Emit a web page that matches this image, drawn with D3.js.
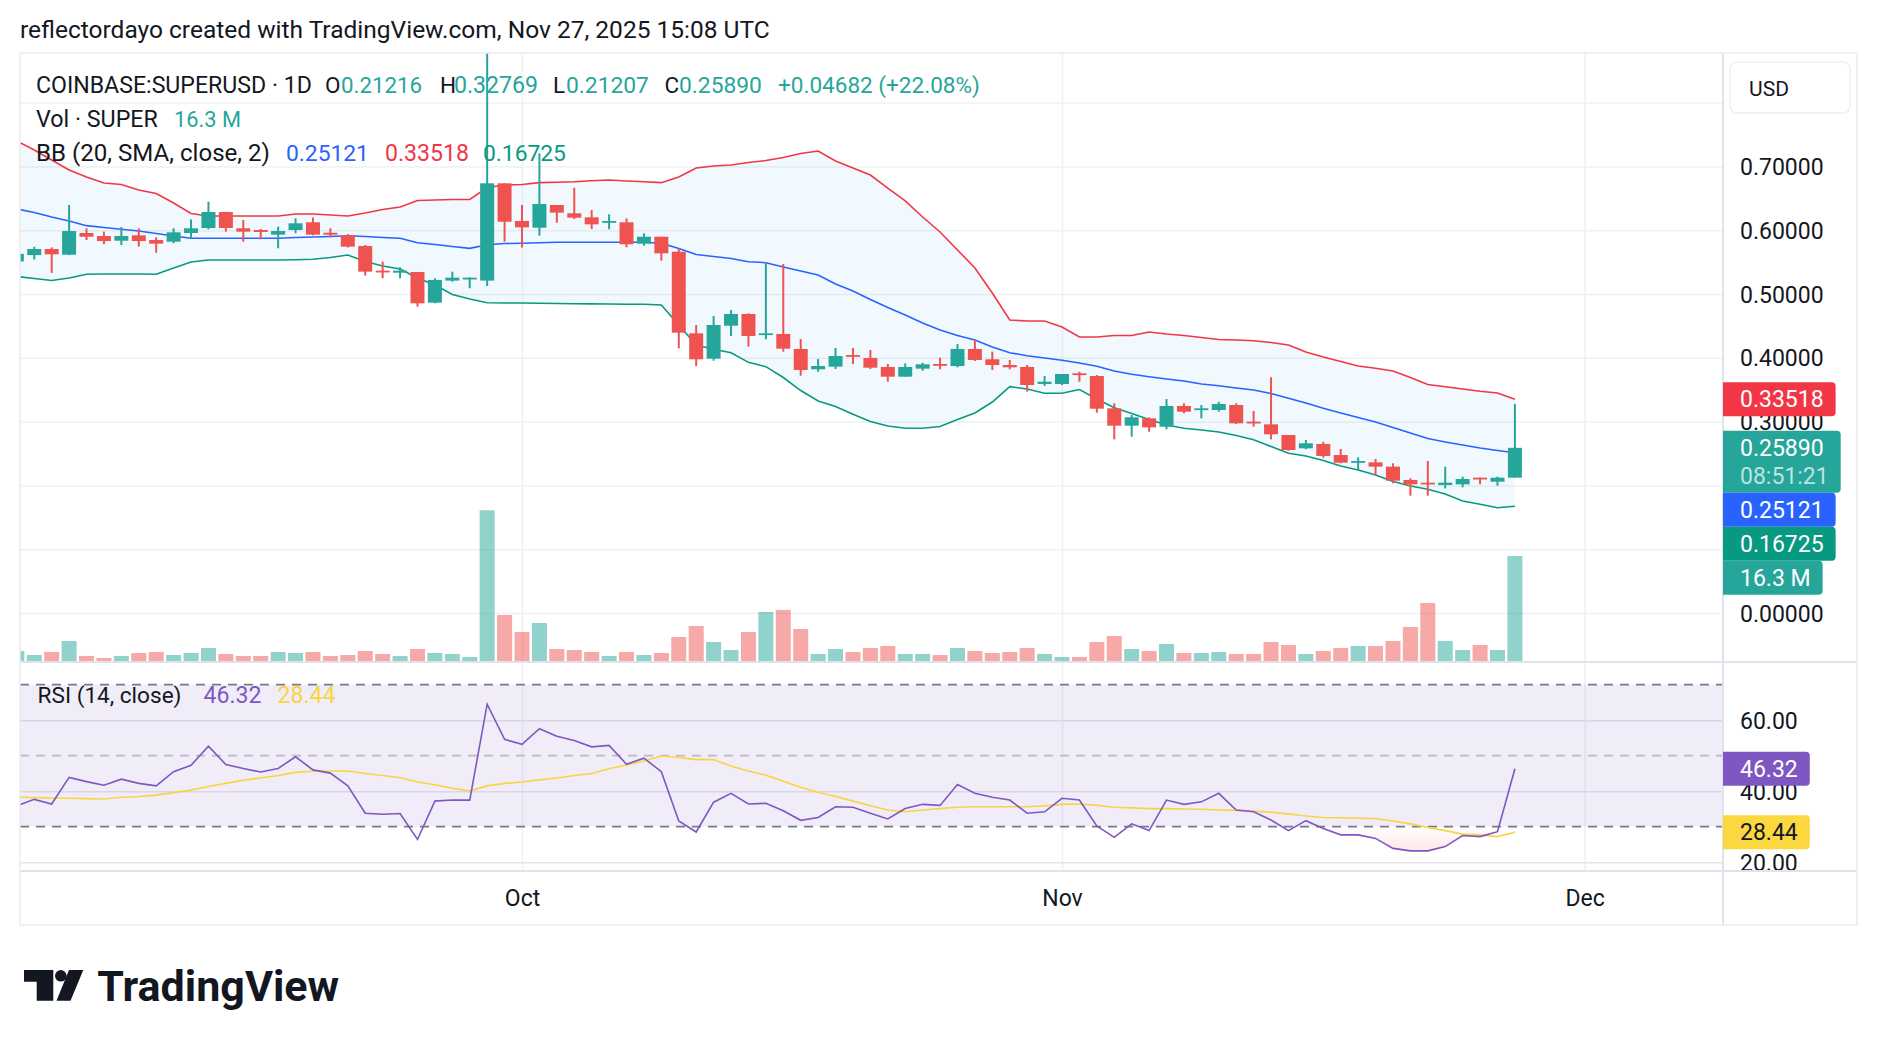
<!DOCTYPE html>
<html><head><meta charset="utf-8">
<script src="https://cdn.jsdelivr.net/npm/d3@7"></script>
<style>body{margin:0;background:#fff;} svg{display:block;font-family:Roboto,sans-serif;}</style>
</head><body><svg id="c" width="1878" height="1046"></svg>
<script>
// ---------------- data ----------------
const startDate = "2025-09-02";
const monthTicks = ["2025-10-01","2025-11-01","2025-12-01"];
const priceTicks = [0,0.1,0.2,0.3,0.4,0.5,0.6,0.7];
const priceGrid = [0,0.1,0.2,0.3,0.4,0.5,0.6,0.7,0.8];
const rsiTicks = [20,40,60];
const rsiBands = [70,50,30];
const open = [0.551,0.561,0.5705,0.5616,0.5956,0.5909,0.5835,0.592,0.5846,0.582,
0.5956,0.6034,0.6285,0.603,0.6003,0.593,0.6003,0.6124,0.596,0.592,
0.5752,0.5366,0.5334,0.5345,0.4864,0.521,0.5235,0.521,0.6735,0.6144,
0.6039,0.6395,0.6265,0.6202,0.6124,0.6124,0.5789,0.5898,0.5663,0.4384,
0.3986,0.4503,0.4687,0.4363,0.4373,0.4138,0.382,0.3861,0.4044,0.3997,
0.3856,0.3704,0.383,0.3903,0.3871,0.4138,0.3977,0.3887,0.3856,0.359,
0.359,0.3757,0.3715,0.3208,0.2936,0.3051,0.292,0.3245,0.3182,0.3182,
0.326,0.2999,0.2957,0.279,0.2581,0.2649,0.2476,0.2356,0.2361,0.2294,
0.2085,0.2043,0.2006,0.2017,0.2121,0.2058,0.21216];
const high = [0.566,0.574,0.573,0.6395,0.603,0.5977,0.605,0.603,0.5889,0.603,
0.617,0.6447,0.629,0.616,0.602,0.6055,0.6186,0.620,0.603,0.594,
0.5768,0.5507,0.5418,0.5345,0.5246,0.535,0.526,0.90,0.6735,0.6395,
0.7205,0.6395,0.6666,0.6317,0.6249,0.6186,0.5951,0.5898,0.5716,0.4514,
0.4655,0.4749,0.4697,0.5497,0.547,0.4295,0.3981,0.4154,0.4154,0.4122,
0.3903,0.3913,0.3923,0.4002,0.4216,0.4279,0.4096,0.3966,0.3887,0.3715,
0.3746,0.3782,0.373,0.3287,0.3103,0.3067,0.3354,0.3287,0.326,0.3312,
0.3287,0.3166,0.3694,0.279,0.2712,0.2685,0.257,0.244,0.2414,0.2346,
0.2111,0.2382,0.2293,0.2137,0.2121,0.2137,0.32769];
const low = [0.549,0.554,0.533,0.561,0.5846,0.578,0.5768,0.5742,0.5647,0.5795,
0.587,0.6014,0.5977,0.582,0.5857,0.5716,0.5951,0.592,0.5889,0.573,
0.5287,0.5246,0.5246,0.480,0.4854,0.5193,0.509,0.5125,0.582,0.573,
0.5914,0.6117,0.6176,0.6019,0.6014,0.5732,0.5757,0.5522,0.4149,0.3871,
0.3955,0.4342,0.4174,0.429,0.4096,0.372,0.3782,0.3824,0.3903,0.3824,
0.3626,0.3704,0.3798,0.382,0.3851,0.395,0.3809,0.382,0.3469,0.3558,
0.3574,0.3626,0.3139,0.2722,0.2763,0.2841,0.2879,0.313,0.3051,0.3155,
0.2962,0.292,0.2722,0.2544,0.2566,0.2434,0.2346,0.2241,0.2163,0.2033,
0.1839,0.1839,0.1954,0.197,0.2017,0.1995,0.21207];
const close = [0.563,0.5705,0.5622,0.5987,0.5898,0.583,0.5909,0.583,0.5789,0.5967,
0.603,0.6285,0.6034,0.5977,0.5972,0.5987,0.6108,0.593,0.593,0.5742,
0.535,0.5345,0.5366,0.4854,0.522,0.5256,0.5256,0.6735,0.6133,0.6045,
0.6411,0.6275,0.6196,0.6092,0.6144,0.5779,0.5898,0.5638,0.4394,0.3976,
0.4514,0.4687,0.4342,0.4384,0.4143,0.3809,0.3871,0.4028,0.4018,0.3845,
0.3704,0.3856,0.3898,0.3882,0.4138,0.3966,0.3887,0.3851,0.3574,0.3625,
0.3746,0.373,0.3202,0.2936,0.3067,0.291,0.3245,0.3155,0.3208,0.3276,
0.2973,0.2973,0.2801,0.2555,0.266,0.2461,0.2356,0.2382,0.2294,0.2074,
0.2017,0.2017,0.2043,0.21,0.2095,0.21208,0.2589];
const volumeM = [1.55,0.93,1.40,3.1,0.78,0.47,0.78,1.24,1.40,0.93,
1.24,2.02,1.09,0.78,0.78,1.40,1.24,1.40,0.78,0.93,
1.55,1.09,0.78,1.86,1.24,1.09,0.62,23.4,7.14,4.50,
5.90,1.86,1.71,1.40,0.78,1.40,0.93,1.24,3.73,5.43,
2.95,1.71,4.50,7.61,7.92,4.97,1.09,1.86,1.40,2.02,
2.33,1.09,1.09,0.93,2.02,1.55,1.24,1.40,2.02,1.09,
0.62,0.62,2.95,3.88,1.86,1.55,2.64,1.24,1.24,1.40,
1.09,1.09,2.95,2.48,1.09,1.55,2.02,2.33,2.33,3.11,
5.28,9.0,3.11,1.71,2.48,1.71,16.3];
const bbUpper = [0.7398,0.7257,0.7100,0.6944,0.6834,0.6740,0.6716,0.6630,0.6575,0.6426,
0.6262,0.6223,0.6223,0.6223,0.6223,0.6223,0.6254,0.6254,0.6238,0.6223,
0.6270,0.6324,0.6364,0.6466,0.6473,0.6481,0.6481,0.6669,0.6708,0.6716,
0.6745,0.6751,0.6760,0.6776,0.6787,0.6771,0.6760,0.6745,0.6834,0.6975,
0.7006,0.7022,0.7061,0.7092,0.7139,0.7202,0.7241,0.7085,0.6975,0.6865,
0.6661,0.6458,0.6207,0.5972,0.5690,0.5408,0.5016,0.4592,0.4577,0.4577,
0.4483,0.4326,0.4326,0.4350,0.4350,0.4404,0.4373,0.4350,0.4318,0.4287,
0.4279,0.4268,0.4240,0.4201,0.4091,0.4013,0.3942,0.3871,0.3835,0.3793,
0.3691,0.3581,0.3547,0.3511,0.3475,0.3448,0.33518];
const bbBasis = [0.6332,0.6277,0.6207,0.6144,0.6071,0.6042,0.6014,0.5987,0.5948,0.5909,
0.5873,0.5873,0.5873,0.5873,0.5873,0.5873,0.5886,0.5893,0.5901,0.5914,
0.5901,0.5886,0.5873,0.5804,0.5776,0.5745,0.5716,0.5773,0.5792,0.5795,
0.5804,0.5810,0.5810,0.5810,0.5810,0.5810,0.5810,0.5795,0.5713,0.5619,
0.5588,0.5556,0.5506,0.5491,0.5423,0.5361,0.5298,0.5157,0.5047,0.4914,
0.4788,0.4671,0.4545,0.4436,0.4350,0.4279,0.4169,0.4080,0.4033,0.3997,
0.3962,0.3918,0.3867,0.3793,0.3741,0.3704,0.3668,0.3636,0.3589,0.3563,
0.3527,0.3495,0.3440,0.3365,0.3292,0.3208,0.3135,0.3064,0.2994,0.2908,
0.2821,0.2735,0.2680,0.2633,0.2586,0.2547,0.25121];
const bbLower = [0.5274,0.5243,0.5212,0.5251,0.5309,0.5313,0.5313,0.5313,0.5309,0.5408,
0.5502,0.5533,0.5533,0.5533,0.5533,0.5533,0.5538,0.5544,0.5572,0.5611,
0.5509,0.5439,0.5392,0.5251,0.5141,0.4992,0.4922,0.4864,0.4859,0.4859,
0.4854,0.4851,0.4848,0.4845,0.4843,0.4840,0.4839,0.4828,0.4514,0.4201,
0.4133,0.4080,0.3929,0.3861,0.3691,0.3487,0.3323,0.3237,0.3114,0.3002,
0.2931,0.2895,0.2895,0.2923,0.3033,0.3135,0.3307,0.3547,0.3511,0.3444,
0.3444,0.3503,0.3354,0.3216,0.3127,0.3033,0.2947,0.2895,0.2868,0.2837,
0.2782,0.2716,0.2610,0.2503,0.2461,0.2390,0.2304,0.2241,0.2163,0.2061,
0.1991,0.1939,0.1865,0.1755,0.1704,0.1650,0.16725];
const rsi = [35.9,37.7,36.4,43.9,42.7,41.7,43.4,42.2,41.5,45.5,
47.3,52.7,47.5,46.4,45.4,46.4,49.7,46.0,45.1,41.5,
33.8,33.5,33.7,26.4,37.2,37.5,37.5,64.5,54.6,53.2,
57.6,55.5,54.3,52.5,52.9,47.6,49.3,45.5,31.6,28.5,
36.9,39.4,36.4,36.6,34.5,31.8,32.6,35.6,35.5,33.8,
32.2,35.1,36.3,36.0,41.9,39.4,38.3,37.5,33.8,34.2,
38.0,37.5,30.2,27.0,30.8,28.9,37.5,36.3,37.0,39.4,
34.7,34.2,31.9,28.9,31.7,29.5,27.7,27.7,26.7,23.9,
23.2,23.2,24.4,27.5,27.2,28.6,46.32];
const rsiMA = [38.3,38.2,38.1,38.0,37.9,37.8,38.3,38.5,38.9,39.6,
40.3,41.3,42.2,43.1,43.7,44.4,45.3,45.6,45.7,45.7,
45.0,44.4,43.8,42.6,41.8,40.8,40.1,41.5,42.2,42.6,
43.2,43.7,44.4,45.0,46.3,47.4,48.5,49.9,49.5,48.9,
48.9,47.1,45.7,44.5,42.8,41.1,39.7,38.5,37.2,35.9,
34.7,34.2,34.7,35.1,35.5,35.6,35.6,35.6,35.6,35.9,
36.3,36.4,36.0,35.5,35.3,35.1,35.1,35.0,34.9,34.7,
34.6,34.4,34.1,33.6,33.0,32.6,32.5,32.4,32.3,31.6,
30.8,29.8,28.9,27.9,27.7,27.2,28.44];
const countdown = "08:51:21";

// ---------------- layout ----------------
const svg = d3.select('#c');
const L=20, PR=1722, AR=1857, TOP=53, MB=661, RT=663, RB=870, BOT=925;
const UP='#26A69A', DOWN='#EF5350', DARK='#131722';
const C_UP='#F23645', C_BASIS='#2962FF', C_LOW='#089981', C_RSI='#7E57C2', C_MA='#F9D442';
const parse = d3.utcParse('%Y-%m-%d');
const n = open.length;
const days = d3.utcDay.range(parse(startDate), d3.utcDay.offset(parse(startDate), n));
const x = d3.scaleUtc().domain([parse('2025-10-01'), parse('2025-11-01')]).range([522,1062]);
const y = d3.scaleLinear().domain([0,0.7]).range([613,166.4]);
const yv = d3.scaleLinear().domain([0,16.3]).range([MB,556]);
const yr = d3.scaleLinear().domain([30,70]).range([826.7,684.7]);
const idx = d3.range(n);
const X = i => x(days[i]);
const last = n-1;
const fmt5 = d3.format('.5f');

svg.append('rect').attr('width',1878).attr('height',1046).attr('fill','#fff');
const defs = svg.append('defs');
defs.append('clipPath').attr('id','cm').append('rect').attr('x',L).attr('y',TOP).attr('width',PR-L).attr('height',MB-TOP);
defs.append('clipPath').attr('id','cr').append('rect').attr('x',L).attr('y',RT).attr('width',PR-L).attr('height',RB-RT);
defs.append('clipPath').attr('id','c30').append('rect').attr('x',L).attr('y',yr(30)).attr('width',PR-L).attr('height',RB-yr(30));
defs.append('clipPath').attr('id','cra').append('rect').attr('x',PR).attr('y',RT).attr('width',AR-PR).attr('height',RB-RT);
const grad = defs.append('linearGradient').attr('id','os').attr('gradientUnits','userSpaceOnUse')
  .attr('x1',0).attr('x2',0).attr('y1',yr(30)).attr('y2',yr(18));
grad.append('stop').attr('offset',0).attr('stop-color','#F23645').attr('stop-opacity',0.0);
grad.append('stop').attr('offset',1).attr('stop-color','#F23645').attr('stop-opacity',0.22);

// gridlines
const GRID='#EEF0F3';
const gm = svg.append('g');
gm.append('g').attr('transform',`translate(${L},0)`)
  .call(d3.axisLeft(y).tickValues(priceGrid).tickSize(-(PR-L)).tickFormat(''))
  .call(g=>g.select('.domain').remove())
  .selectAll('line').attr('stroke',GRID).attr('stroke-width',1.5);
gm.append('g').attr('transform',`translate(0,${MB})`)
  .call(d3.axisBottom(x).tickValues(monthTicks.map(parse)).tickSize(-(MB-TOP)).tickFormat(''))
  .call(g=>g.select('.domain').remove())
  .selectAll('line').attr('stroke',GRID).attr('stroke-width',1.5);
gm.append('g').attr('transform',`translate(0,${RB})`)
  .call(d3.axisBottom(x).tickValues(monthTicks.map(parse)).tickSize(-(RB-RT)).tickFormat(''))
  .call(g=>g.select('.domain').remove())
  .selectAll('line').attr('stroke',GRID).attr('stroke-width',1.5);
gm.append('g').attr('transform',`translate(${L},0)`)
  .call(d3.axisLeft(yr).tickValues(rsiTicks).tickSize(-(PR-L)).tickFormat(''))
  .call(g=>g.select('.domain').remove())
  .selectAll('line').attr('stroke','#E6E4EC').attr('stroke-width',1.5);

// main pane
const main = svg.append('g').attr('clip-path','url(#cm)');
main.append('path').datum(idx)
  .attr('d', d3.area().x(X).y0(i=>y(bbLower[i])).y1(i=>y(bbUpper[i])))
  .attr('fill','rgba(33,150,243,0.06)');
main.append('g').selectAll('rect').data(idx).join('rect')
  .attr('x',i=>X(i)-7.5).attr('width',15)
  .attr('y',i=>yv(volumeM[i])).attr('height',i=>MB-yv(volumeM[i]))
  .attr('fill',i=>close[i]>=open[i]?'rgba(38,166,154,0.5)':'rgba(239,83,80,0.5)');
const line = arr => d3.line().x(X).y(i=>y(arr[i]));
[[bbUpper,C_UP],[bbBasis,C_BASIS],[bbLower,C_LOW]].forEach(([a,c])=>{
  main.append('path').datum(idx).attr('d',line(a)).attr('fill','none').attr('stroke',c).attr('stroke-width',1.6);
});
const cg = main.append('g');
cg.selectAll('line').data(idx).join('line')
  .attr('x1',X).attr('x2',X).attr('y1',i=>y(high[i])).attr('y2',i=>y(low[i]))
  .attr('stroke',i=>close[i]>=open[i]?UP:DOWN).attr('stroke-width',2);
cg.selectAll('rect').data(idx).join('rect')
  .attr('x',i=>X(i)-7).attr('width',14)
  .attr('y',i=>Math.min(y(open[i]),y(close[i])))
  .attr('height',i=>Math.max(1.8,Math.abs(y(open[i])-y(close[i]))))
  .attr('fill',i=>close[i]>=open[i]?UP:DOWN);

// RSI pane
const rp = svg.append('g').attr('clip-path','url(#cr)');
rp.append('rect').attr('x',L).attr('width',PR-L).attr('y',yr(70)).attr('height',yr(30)-yr(70)).attr('fill','rgba(126,87,194,0.11)');
rsiBands.forEach(v=>{
  rp.append('line').attr('x1',L).attr('x2',PR).attr('y1',yr(v)).attr('y2',yr(v))
    .attr('stroke', v===50?'#B9BBC3':'#787B86').attr('stroke-width',1.8).attr('stroke-dasharray','9,7');
});
rp.append('g').attr('clip-path','url(#c30)').append('path').datum(idx)
  .attr('d', d3.area().x(X).y0(yr(30)).y1(i=>yr(rsi[i]))).attr('fill','url(#os)');
rp.append('path').datum(idx).attr('d', d3.line().x(X).y(i=>yr(rsiMA[i]))).attr('fill','none').attr('stroke',C_MA).attr('stroke-width',1.6);
rp.append('path').datum(idx).attr('d', d3.line().x(X).y(i=>yr(rsi[i]))).attr('fill','none').attr('stroke',C_RSI).attr('stroke-width',1.6);

// separators & frame
const SEP='#E0E3EB';
svg.append('rect').attr('x',L).attr('y',MB).attr('width',AR-L).attr('height',2).attr('fill',SEP);
svg.append('rect').attr('x',L).attr('y',RB).attr('width',AR-L).attr('height',2).attr('fill',SEP);
svg.append('rect').attr('x',PR).attr('y',TOP).attr('width',2).attr('height',BOT-TOP).attr('fill',SEP);
svg.append('rect').attr('x',L).attr('y',TOP).attr('width',AR-L).attr('height',BOT-TOP)
  .attr('fill','none').attr('stroke','#E9ECF1').attr('stroke-width',1.5);

// text helper
function txt(g, str, xx, yy, color, size, width, weight){
  const t = g.append('text').attr('x',xx).attr('y',yy).attr('fill',color).attr('font-size',size)
    .attr('font-family','Roboto').attr('font-weight',weight||400).text(str);
  if (width){ const w=t.node().getComputedTextLength(); if(w>0){ let s=size*width/w; s=Math.max(size*0.85,Math.min(size*1.15,s)); t.attr('font-size',s);} }
  return t;
}
const chg = close[last]-close[last-1];
txt(svg,'reflectordayo created with TradingView.com, Nov 27, 2025 15:08 UTC',20,37.5,DARK,22,750);
const lg = svg.append('g');
txt(lg,'COINBASE:SUPERUSD · 1D',36,93,DARK,22.5,276);
txt(lg,'O',325,93,DARK,22.5);
txt(lg,fmt5(open[last]),341,93,UP,22.5,81);
txt(lg,'H',440,93,DARK,22.5);
txt(lg,fmt5(high[last]),454,93,UP,22.5,84);
txt(lg,'L',553,93,DARK,22.5);
txt(lg,fmt5(low[last]),566,93,UP,22.5,83);
txt(lg,'C',664.5,93,DARK,22.5);
txt(lg,fmt5(close[last]),679,93,UP,22.5,83);
txt(lg,`+${fmt5(chg)} (+${d3.format('.2f')(chg/close[last-1]*100)}%)`,778,93,UP,22.5,202);
txt(lg,'Vol · SUPER',36,127,DARK,22.5,122);
txt(lg,`${d3.format('.1f')(volumeM[last])} M`,174,127,UP,22.5,67);
txt(lg,'BB (20, SMA, close, 2)',36,161,DARK,22.5,234);
txt(lg,fmt5(bbBasis[last]),286,161,C_BASIS,22.5,83);
txt(lg,fmt5(bbUpper[last]),385,161,C_UP,22.5,84);
txt(lg,fmt5(bbLower[last]),483,161,C_LOW,22.5,83);
txt(lg,'RSI (14, close)',37.6,703,DARK,22.5,144);
txt(lg,d3.format('.2f')(rsi[last]),203.6,703,C_RSI,22.5,58);
txt(lg,d3.format('.2f')(rsiMA[last]),277.6,703,C_MA,22.5,58);

// badge layout (computed first, so that axis labels hidden under a badge are skipped)
const LH = 34;
function layout(list){
  let prev=-1e9;
  list.sort((a,b)=>a.v-b.v).forEach(b=>{
    b.h = LH*b.lines.length + (b.lines.length>1? -6:0);
    let top = b.v - LH/2; if (top<prev) top=prev; b.top=top; prev=top+b.h;
  });
  return list;
}
const priceBadges = layout([
  {v:y(bbUpper[last]), lines:[fmt5(bbUpper[last])], bg:C_UP},
  {v:y(close[last]), lines:[fmt5(close[last]), countdown], bg:UP},
  {v:y(bbBasis[last]), lines:[fmt5(bbBasis[last])], bg:C_BASIS},
  {v:y(bbLower[last]), lines:[fmt5(bbLower[last])], bg:C_LOW},
  {v:yv(volumeM[last]), lines:[`${d3.format('.1f')(volumeM[last])} M`], bg:UP}
]);
const rsiBadges = layout([
  {v:yr(rsi[last]), lines:[d3.format('.2f')(rsi[last])], bg:C_RSI},
  {v:yr(rsiMA[last]), lines:[d3.format('.2f')(rsiMA[last])], bg:'#FBD740', fg:DARK}
]);
const hidden = (yy, list) => list.some(b => yy > b.top+4 && yy < b.top+b.h-4);

// price axis
svg.append('g').attr('transform','translate(1740,0)')
  .call(d3.axisRight(y).tickValues(priceTicks.filter(p=>!hidden(y(p),priceBadges))).tickFormat(fmt5).tickSize(0).tickPadding(0))
  .call(g=>g.select('.domain').remove())
  .attr('font-size',23).attr('font-family','Roboto')
  .selectAll('text').attr('fill',DARK).attr('dy','0.35em');
svg.append('g').attr('clip-path','url(#cra)').append('g').attr('transform','translate(1740,0)')
  .call(d3.axisRight(yr).tickValues(rsiTicks.filter(v=>!hidden(yr(v),rsiBadges))).tickFormat(d3.format('.2f')).tickSize(0).tickPadding(0))
  .call(g=>g.select('.domain').remove())
  .attr('font-size',23).attr('font-family','Roboto')
  .selectAll('text').attr('fill',DARK).attr('dy','0.35em');
// time axis
svg.append('g').attr('transform','translate(0,906)')
  .call(d3.axisBottom(x).tickValues(monthTicks.map(parse)).tickFormat(d3.utcFormat('%b')).tickSize(0).tickPadding(0))
  .call(g=>g.select('.domain').remove())
  .attr('font-size',23).attr('font-family','Roboto')
  .selectAll('text').attr('fill',DARK).attr('y',0).attr('dy',0);

// USD box
svg.append('rect').attr('x',1730).attr('y',62).attr('width',120).attr('height',51).attr('rx',7)
  .attr('fill','#fff').attr('stroke','#EDEFF3').attr('stroke-width',1.5);
txt(svg,'USD',1749,96,DARK,22.5,40);

// badges
function badgePath(x0,y0,w,h,r){return `M${x0},${y0}H${x0+w-r}Q${x0+w},${y0} ${x0+w},${y0+r}V${y0+h-r}Q${x0+w},${y0+h} ${x0+w-r},${y0+h}H${x0}Z`;}
function drawBadges(list){
  list.forEach(b=>{
    const g = svg.append('g');
    const p = g.append('path').attr('fill',b.bg);
    let maxW=0;
    b.lines.forEach((s,k)=>{
      const t = txt(g,s,1740,b.top+LH/2+8+k*28,k===0?(b.fg||'#fff'):'rgba(255,255,255,0.7)',23);
      maxW=Math.max(maxW,t.node().getComputedTextLength());
    });
    p.attr('d',badgePath(PR+1,b.top,1740-PR-1+maxW+12,b.h,4));
  });
}
drawBadges(priceBadges);
drawBadges(rsiBadges);

// logo
const lo = svg.append('g').attr('fill','#131722');
lo.append('path').attr('d','M24,970H53.3V1000.7H36.7V981.7H24Z');
lo.append('circle').attr('cx',60.8).attr('cy',975.8).attr('r',5.8);
lo.append('path').attr('d','M69,970H83.3L70.5,1000.7H56.5Z');
txt(lo,'TradingView',97.3,1000.7,'#131722',43,242,700);
</script></body></html>
